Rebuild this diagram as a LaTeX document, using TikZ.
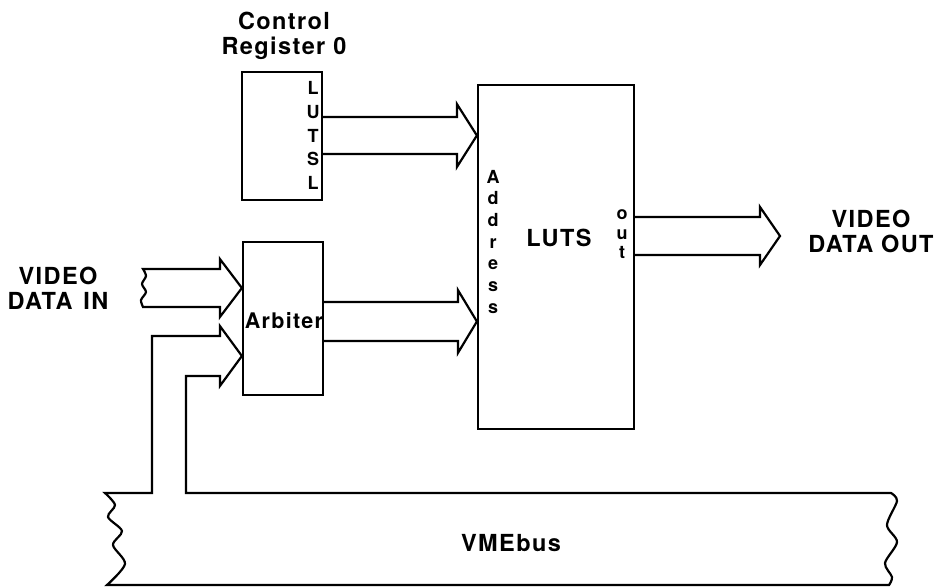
\documentclass[tikz,border=0pt]{standalone}
\usepackage{fontspec}
\setmainfont{TeX Gyre Heros}
\newfontfamily\lblfam[LetterSpace=6]{TeX Gyre Heros}
\usetikzlibrary{calc}
\tikzset{
  blk/.style={draw, line width=2.2pt, inner sep=0pt},
  lbl/.style={font=\lblfam\bfseries\fontsize{23.5}{24.5}\selectfont, align=center, inner sep=0pt},
  arblbl/.style={font=\lblfam\bfseries\fontsize{21.5}{24}\selectfont, inner sep=0pt},
  pin/.style={font=\lblfam\bfseries\fontsize{18}{20}\selectfont, inner sep=0pt, anchor=base},
  bus/.style={draw, line width=2.2pt, line join=miter}
}
% fat bus arrow: #1 start coordinate, #2 tip coordinate, #3 half gap, #4 head length, #5 head extension
\newcommand\busarrow[5]{%
  \draw[bus] ($(#1)+(0,-#3)$) -- ($(#2)+(-#4,-#3)$) -- ++(0,-#5) -- (#2)
     -- ($(#2)+(-#4,#3+#5)$) -- ++(0,-#5) -- ($(#1)+(0,#3)$);
}
\begin{document}
\begin{tikzpicture}[x=1pt,y=-1pt]
\useasboundingbox (0,0) rectangle (940,587);

% blocks
\node[blk, minimum width=80pt, minimum height=128pt] (cr) at (282,136) {};
\node[blk, minimum width=80pt, minimum height=153pt] (arb) at (283,318.5) {};
\node[blk, minimum width=156pt, minimum height=344pt] (luts) at (556,257) {};

% labels
\node[lbl] (crlbl) at (284,36) {Control\\Register 0};
\node[arblbl] (arbtxt) at (284,321) {Arbiter};
\node[lbl] (lutslbl) at (559,238) {LUTS};
\node[lbl] (vin) at (58,288.5) {VIDEO\\DATA\hspace{3pt} IN};
\node[lbl] (vout) at (871,231.5) {VIDEO\\DATA OUT};
\node[lbl] (vme) at (511,543) {VMEbus};

\foreach \c [count=\i from 0] in {L,U,T,S,L}
  \node[pin] (crp\i) at (313,94.5+23.75*\i) {\c};
\foreach \c [count=\i from 0] in {A,d,d,r,e,s,s}
  \node[pin] (ad\i) at (493,183+21.7*\i) {\c};
\foreach \c [count=\i from 0] in {o,u,t}
  \node[pin] (op\i) at (622,219.5+19.5*\i) {\c};

% arrow tips and starts
\coordinate (t1) at (luts.west |- 0,135.5);
\coordinate (s1) at (cr.east |- t1);
\coordinate (t2) at (luts.west |- 0,321.5);
\coordinate (s2) at (arb.east |- t2);
\coordinate (t3) at (arb.west |- 0,288);
\coordinate (t4) at (780,236);
\coordinate (s4) at (luts.east |- t4);
\coordinate (t5) at (arb.west |- 0,356);

\busarrow{s1}{t1}{18.5}{20}{13}
\busarrow{s2}{t2}{19.5}{19}{12}
\busarrow{s4}{t4}{19}{20}{10}

% video data in (broken end)
\draw[bus] plot[smooth] coordinates {(143,307) (141,300) (146,292) (142,284) (146,276) (143,269)}
  -- ($(t3)+(-22,-19)$) -- ++(0,-10) -- (t3) -- ($(t3)+(-22,29)$) -- ++(0,-10) -- cycle;

% VMEbus with branch into arbiter
\draw[bus] (152,493) -- (152,336) -- ($(t5)+(-22,-20)$) -- ++(0,-10) -- (t5)
  -- ($(t5)+(-22,30)$) -- ++(0,-10) -- (186,376) -- (186,493) -- (891,493)
  -- plot[smooth] coordinates {(891,493) (897,501) (887,525) (897,542) (885,563) (892,577) (889,585)}
  -- (107,585)
  -- plot[smooth] coordinates {(107,585) (125,564) (113,545) (122,531) (108,517) (115,505) (105,493)}
  -- cycle;
\end{tikzpicture}
\end{document}
